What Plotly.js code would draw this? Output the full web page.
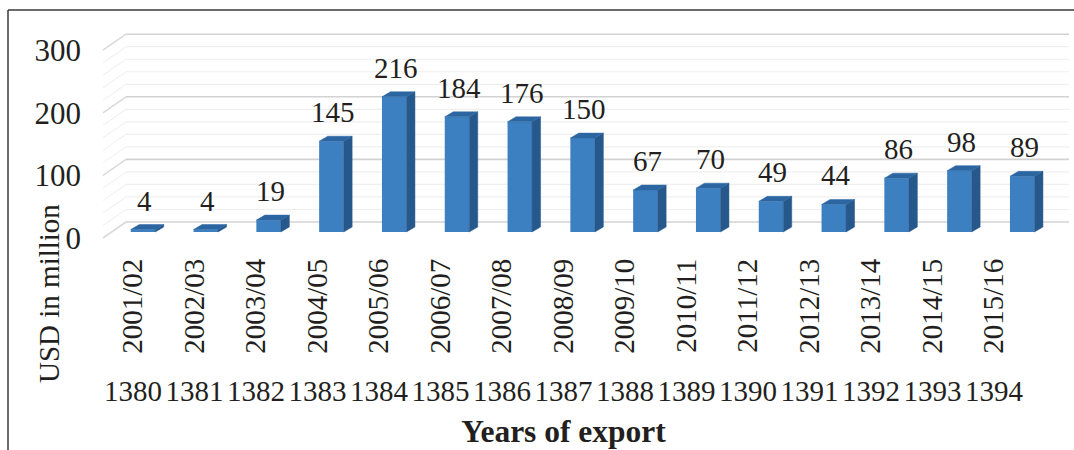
<!DOCTYPE html>
<html>
<head>
<meta charset="utf-8">
<script src="https://cdn.plot.ly/plotly-3.0.1.min.js"></script>
<style>html,body{margin:0;padding:0;background:#fff;}#chart{width:1074px;height:450px;}</style>
</head>
<body>
<div id="chart"></div>
<script>
// ---- data ----
const fiscalYears = ["2001/02","2002/03","2003/04","2004/05","2005/06","2006/07","2007/08","2008/09","2009/10","2010/11","2011/12","2012/13","2013/14","2014/15","2015/16"];
const persianYears = ["1380","1381","1382","1383","1384","1385","1386","1387","1388","1389","1390","1391","1392","1393","1394"];
const exportsUSD = [4, 4, 19, 145, 216, 184, 176, 150, 67, 70, 49, 44, 86, 98, 89];
const yTicks = [0, 100, 200, 300];
const yTitle = "USD in million";
const xTitle = "Years of export";

// ---- layout geometry (pixels) ----
const W = 1074, H = 450;
const pxPerCat = 62.8, firstBarPx = 143;   // bar front centres
const basePx = 232, pxPerUnit = 0.626;      // bar base line and vertical scale
const xr = [-firstBarPx / pxPerCat, (W - firstBarPx) / pxPerCat];
const yr = [(basePx - H) / pxPerUnit, basePx / pxPerUnit];
const toX = px => (px - firstBarPx) / pxPerCat;
const toYunits = px => px / pxPerUnit;

const barW = 0.39;                // fraction of category
const dX = 8.5 / pxPerCat;        // depth offset
const dY = toYunits(5);

const cFront = '#3d80c2', cSide = '#27588c', cTop = '#2c66a2';
const serif = 'Liberation Serif, Times New Roman, serif';
const txt = '#231f20';

const idx = exportsUSD.map((_, i) => i);

// side and top faces built from the values
const sideX = [], sideY = [], topX = [], topY = [];
exportsUSD.forEach((v, i) => {
  const r = i + barW / 2, l = i - barW / 2;
  sideX.push(r, r + dX, r + dX, r, r, null);
  sideY.push(0, dY, v + dY, v, 0, null);
  topX.push(l, r, r + dX, l + dX, l, null);
  topY.push(v, v, v + dY, v + dY, v, null);
});

const traces = [
  {type: 'bar', x: idx, y: exportsUSD, width: barW, marker: {color: cFront, line: {width: 0}},
   hovertext: fiscalYears, hoverinfo: 'text+y', showlegend: false},
  {type: 'scatter', x: sideX, y: sideY, mode: 'lines', fill: 'toself', fillcolor: cSide,
   line: {color: cSide, width: 0.5}, hoverinfo: 'skip', showlegend: false},
  {type: 'scatter', x: topX, y: topY, mode: 'lines', fill: 'toself', fillcolor: cTop,
   line: {color: cTop, width: 0.5}, hoverinfo: 'skip', showlegend: false},
  {type: 'scatter', x: fiscalYears, y: exportsUSD, xaxis: 'x2', mode: 'markers',
   marker: {opacity: 0}, hoverinfo: 'skip', showlegend: false},
  {type: 'scatter', x: persianYears, y: exportsUSD, xaxis: 'x3', mode: 'markers',
   marker: {opacity: 0}, hoverinfo: 'skip', showlegend: false}
];

// gridlines on the back wall and left side wall
const shapes = [];
const xFrontL = toX(103), xBackL = toX(126), xRight = toX(1069);
const backUp = toYunits(10), frontDown = toYunits(6);
for (let v = 0; v <= 300; v += 20) {
  const major = v % 100 === 0;
  const col = major ? '#d2d2d2' : '#efefef';
  const wd = major ? 1.6 : 1.2;
  shapes.push({type: 'line', xref: 'x', yref: 'y', x0: xBackL, x1: xRight, y0: v + backUp, y1: v + backUp,
    line: {color: col, width: wd}, layer: 'below'});
  shapes.push({type: 'line', xref: 'x', yref: 'y', x0: xFrontL, x1: xBackL, y0: v - frontDown, y1: v + backUp,
    line: {color: major ? '#dadada' : '#f2f2f2', width: wd}, layer: 'below'});
}
// outer frame
shapes.push({type: 'line', xref: 'paper', yref: 'paper', x0: 8 / W, x1: 1, y0: 1 - 10 / H, y1: 1 - 10 / H,
  line: {color: '#3a3a3a', width: 1.5}});
shapes.push({type: 'line', xref: 'paper', yref: 'paper', x0: 8 / W, x1: 8 / W, y0: 0, y1: 1 - 10 / H,
  line: {color: '#3a3a3a', width: 1.5}});

const annotations = exportsUSD.map((v, i) => ({
  x: i + 0.03, y: v, xref: 'x', yref: 'y', text: String(v), showarrow: false,
  yanchor: 'bottom', yshift: 11, font: {family: serif, size: 29, color: txt}
}));
annotations.push({xref: 'paper', yref: 'paper', x: 31 / W, y: 1 - 294 / H, text: yTitle,
  textangle: -90, showarrow: false, font: {family: serif, size: 29, color: txt}});

const labDom = [(firstBarPx - 10 - 61.5 / 2) / W, (firstBarPx - 10 - 61.5 / 2 + 61.5 * 15) / W];

const layout = {
  width: W, height: H,
  margin: {l: 0, r: 0, t: 0, b: 0},
  paper_bgcolor: '#ffffff', plot_bgcolor: 'rgba(0,0,0,0)',
  showlegend: false,
  xaxis: {domain: [0, 1], range: xr, visible: false, fixedrange: true},
  yaxis: {domain: [0, 1], range: yr, anchor: 'free', position: 81 / W,
    tickvals: yTicks, ticktext: yTicks.map(String), ticks: '', showgrid: false, zeroline: false,
    showline: false, ticklabelshift: 6, automargin: false,
    tickfont: {family: serif, size: 31, color: txt}, fixedrange: true},
  xaxis2: {type: 'category', domain: labDom, range: [-0.5, 14.5], anchor: 'free', position: 1 - 252 / H,
    tickangle: -90, ticks: '', showgrid: false, zeroline: false, showline: false, automargin: false,
    tickfont: {family: serif, size: 29, color: txt}, fixedrange: true},
  xaxis3: {type: 'category', domain: labDom, range: [-0.5, 14.5], anchor: 'free', position: 1 - 371 / H,
    tickangle: 0, ticks: '', showgrid: false, zeroline: false, showline: false, automargin: false,
    tickfont: {family: serif, size: 29, color: txt}, fixedrange: true,
    title: {text: xTitle, standoff: 13, font: {family: serif, size: 31.5, color: txt, weight: 'bold'}}},
  shapes: shapes,
  annotations: annotations
};

Plotly.newPlot('chart', traces, layout, {displayModeBar: false, staticPlot: true});
</script>
</body>
</html>
